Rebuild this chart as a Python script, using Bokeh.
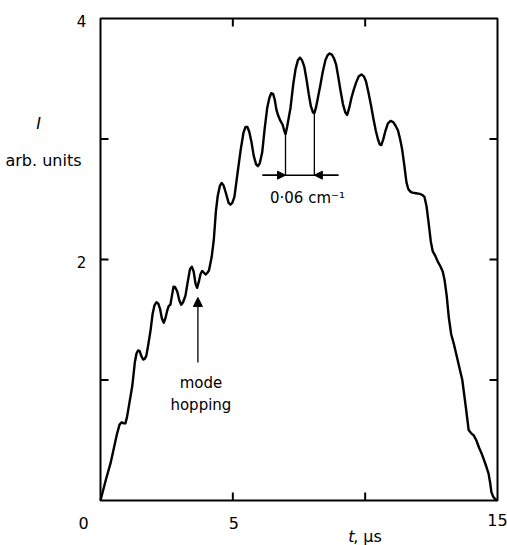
from bokeh.plotting import figure
from bokeh.models import Arrow, NormalHead, Range1d
from bokeh.core.properties import value
from bokeh.embed import file_html
from bokeh.resources import INLINE

# ---- data: time (µs) and intensity (arb. units) ----
t_us = [0.00, 0.20, 0.38, 0.49, 0.62, 0.72, 0.80, 0.88, 0.94, 1.00, 1.10, 1.20, 1.30,
        1.36, 1.42, 1.48, 1.54, 1.61, 1.67, 1.73, 1.81, 1.89, 1.97, 2.04, 2.11, 2.18,
        2.25, 2.32, 2.39, 2.45, 2.52, 2.58, 2.64, 2.70, 2.76, 2.82, 2.90, 2.98, 3.05,
        3.12, 3.21, 3.30, 3.38, 3.45, 3.52, 3.59, 3.65, 3.72, 3.78, 3.84, 3.91, 3.97,
        4.04, 4.10, 4.20, 4.28, 4.36, 4.43, 4.51, 4.58, 4.65, 4.74, 4.84, 4.91, 4.98,
        5.06, 5.18, 5.29, 5.40, 5.48, 5.55, 5.62, 5.70, 5.79, 5.88, 5.95, 6.02, 6.11,
        6.20, 6.30, 6.38, 6.45, 6.52, 6.58, 6.65, 6.72, 6.80, 6.88, 6.94, 6.99, 7.05,
        7.18, 7.28, 7.37, 7.46, 7.54, 7.62, 7.70, 7.78, 7.87, 7.95, 8.03, 8.08, 8.14,
        8.23, 8.31, 8.40, 8.50, 8.58, 8.66, 8.74, 8.82, 8.90, 8.98, 9.07, 9.16, 9.25,
        9.32, 9.40, 9.48, 9.57, 9.66, 9.76, 9.86, 9.95, 10.03, 10.12, 10.22, 10.31,
        10.40, 10.48, 10.55, 10.61, 10.68, 10.77, 10.86, 10.96, 11.06, 11.15, 11.24,
        11.32, 11.40, 11.48, 11.56, 11.63, 11.70, 11.78, 11.92, 12.06, 12.16, 12.24,
        12.32, 12.40, 12.48, 12.55, 12.65, 12.75, 12.85, 12.93, 13.00, 13.08, 13.16,
        13.25, 13.35, 13.50, 13.67, 13.80, 13.91, 14.00, 14.10, 14.20, 14.30, 14.40,
        14.50, 14.58, 14.66, 14.72, 14.77, 14.84, 14.92, 15.00]
intensity = [0.00, 0.17, 0.31, 0.42, 0.55, 0.63, 0.65, 0.64, 0.64, 0.69, 0.82, 0.95, 1.15,
             1.22, 1.245, 1.24, 1.20, 1.17, 1.175, 1.20, 1.30, 1.41, 1.55, 1.62, 1.645, 1.635,
             1.59, 1.51, 1.475, 1.51, 1.575, 1.615, 1.625, 1.70, 1.775, 1.77, 1.735, 1.66, 1.625,
             1.645, 1.70, 1.82, 1.92, 1.94, 1.90, 1.80, 1.765, 1.82, 1.88, 1.905, 1.89, 1.875,
             1.89, 1.91, 2.02, 2.16, 2.40, 2.53, 2.61, 2.635, 2.615, 2.55, 2.47, 2.455, 2.47,
             2.52, 2.72, 2.90, 3.05, 3.10, 3.10, 3.06, 2.98, 2.86, 2.79, 2.775, 2.80, 2.89,
             3.08, 3.26, 3.34, 3.38, 3.375, 3.33, 3.24, 3.19, 3.15, 3.12, 3.07, 3.04, 3.10,
             3.26, 3.45, 3.58, 3.655, 3.675, 3.65, 3.60, 3.50, 3.37, 3.27, 3.22, 3.215, 3.26,
             3.36, 3.45, 3.56, 3.655, 3.695, 3.71, 3.70, 3.67, 3.62, 3.52, 3.40, 3.29, 3.22,
             3.20, 3.26, 3.34, 3.41, 3.47, 3.52, 3.535, 3.52, 3.48, 3.39, 3.28, 3.17,
             3.07, 3.00, 2.955, 2.95, 2.995, 3.07, 3.13, 3.15, 3.14, 3.11, 3.07,
             3.00, 2.91, 2.78, 2.64, 2.585, 2.565, 2.555, 2.55, 2.545, 2.535, 2.52,
             2.44, 2.30, 2.15, 2.07, 2.03, 1.98, 1.94, 1.90, 1.83, 1.70, 1.52,
             1.38, 1.30, 1.16, 1.00, 0.78, 0.585, 0.56, 0.54, 0.50, 0.44, 0.39,
             0.33, 0.28, 0.225, 0.15, 0.07, 0.03, 0.01, 0.00]

t_limits = [0, 15]
I_limits = [0, 4]
x_tick_values = [5, 10]
y_tick_values = [1, 2, 3]
x_tick_labels = ["0", "5", "15"]
x_label_positions = [0, 5, 15]
y_tick_labels = ["2", "4"]
y_label_positions = [2, 4]

# mode-spacing annotation (two adjacent valleys)
spacing_t = [6.99, 8.08]
spacing_I_top = [3.04, 3.215]
spacing_level = 2.70
spacing_bar = [6.12, 8.99]
hop_t = 3.68
hop_I = [1.145, 1.685]

# ---- layout (pixels) ----
W, H = 507, 545
LEFT, RIGHT, TOP, BOTTOM = 100, 10, 18, 45
px_t = (W - LEFT - RIGHT) / (t_limits[1] - t_limits[0])
px_I = (H - TOP - BOTTOM) / (I_limits[1] - I_limits[0])
TICK = 8

FONT = "DejaVu Sans"

p = figure(width=W, height=H,
           x_range=Range1d(t_limits[0] - LEFT / px_t, t_limits[1] + RIGHT / px_t),
           y_range=Range1d(I_limits[0] - BOTTOM / px_I, I_limits[1] + TOP / px_I),
           output_backend="svg", toolbar_location=None,
           x_axis_location=None, y_axis_location=None, min_border=0)
p.grid.visible = False
p.outline_line_color = None
p.background_fill_color = "white"
p.border_fill_color = "white"

# frame
p.quad(left=[t_limits[0]], right=[t_limits[1]], bottom=[I_limits[0]], top=[I_limits[1]],
       fill_color=None, line_color="black", line_width=2)

# inward ticks on all four sides
dt = TICK / px_t
dI = TICK / px_I
p.segment(x0=[t_limits[0]] * 3, y0=y_tick_values, x1=[t_limits[0] + dt] * 3, y1=y_tick_values,
          line_color="black", line_width=2)
p.segment(x0=[t_limits[1]] * 3, y0=y_tick_values, x1=[t_limits[1] - dt] * 3, y1=y_tick_values,
          line_color="black", line_width=2)
p.segment(x0=x_tick_values, y0=[I_limits[0]] * 2, x1=x_tick_values, y1=[I_limits[0] + dI] * 2,
          line_color="black", line_width=2)
p.segment(x0=x_tick_values, y0=[I_limits[1]] * 2, x1=x_tick_values, y1=[I_limits[1] - dI] * 2,
          line_color="black", line_width=2)


def txt(x, y, s, dx=0, dy=0, size="15px", style="normal", align="center"):
    p.text(x=[x], y=[y], text=[s], x_offset=dx, y_offset=dy,
           text_font=value(FONT), text_font_size=value(size), text_font_style=style,
           text_align=align, text_baseline="middle", text_color="black")


# tick labels
x_offsets = [(-17, 22), (1, 22), (0, 19)]
for pos, lab, (dx, dy) in zip(x_label_positions, x_tick_labels, x_offsets):
    txt(pos, I_limits[0], lab, dx, dy, size="16px")
for pos, lab in zip(y_label_positions, y_tick_labels):
    txt(t_limits[0], pos, lab, -19, 2, size="15px")

# axis titles
txt(10, I_limits[0], "t", -17, 36, size="16px", style="italic", align="left")
txt(10, I_limits[0], ", µs", -12, 36, size="16px", align="left")
txt(t_limits[0], 3, "I", -62, -16, size="16px", style="italic")
txt(t_limits[0], 3, "arb. units", -57, 21, size="16px")

# curve
p.line(t_us, intensity, line_color="black", line_width=2.4, line_join="round")

# spacing annotation
p.segment(x0=spacing_t, y0=spacing_I_top, x1=spacing_t, y1=[spacing_level] * 2,
          line_color="black", line_width=1.3)
p.segment(x0=[spacing_bar[0]], y0=[spacing_level], x1=[spacing_bar[1]], y1=[spacing_level],
          line_color="black", line_width=1.5)
for start, end in ((spacing_bar[0], spacing_t[0]), (spacing_bar[1], spacing_t[1])):
    p.add_layout(Arrow(end=NormalHead(size=8, fill_color="black", line_color="black"),
                       x_start=start, y_start=spacing_level, x_end=end, y_end=spacing_level,
                       line_width=1.5))
txt(7.82, 2.51, "0·06 cm⁻¹", size="15px")

# mode hopping arrow
p.add_layout(Arrow(end=NormalHead(size=9, fill_color="black", line_color="black"),
                   x_start=hop_t, y_start=hop_I[0], x_end=hop_t, y_end=hop_I[1],
                   line_width=1.3))
txt(hop_t, hop_I[0], "mode", 3, 20, size="15px")
txt(hop_t, hop_I[0], "hopping", 3, 42, size="15px")

open("out.html", "w").write(file_html(p, INLINE))
